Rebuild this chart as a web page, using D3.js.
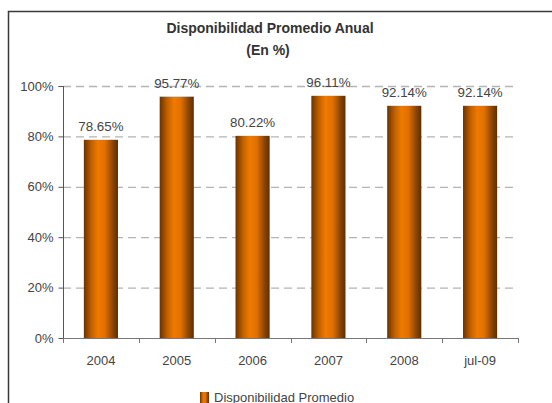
<!DOCTYPE html>
<html>
<head>
<meta charset="utf-8">
<script src="https://cdn.jsdelivr.net/npm/d3@7"></script>
<style>
  body { margin:0; background:#fff; }
  svg { display:block; font-family: "Liberation Sans", Arial, sans-serif; }
  svg text { font-family: "Liberation Sans", Arial, sans-serif; }
</style>
</head>
<body>
<svg id="chart" width="552" height="403"></svg>
<script>
// data
const years = ["2004","2005","2006","2007","2008","jul-09"];
const values = [78.65, 95.77, 80.22, 96.11, 92.14, 92.14];
const yTicks = [0, 20, 40, 60, 80, 100];
const seriesName = "Disponibilidad Promedio";

const svg = d3.select("#chart");
const W = 552, H = 403;
const m = {left:63, right:34, top:86, bottom:65};

// frame (right and bottom edges fall outside the picture)
svg.append("path")
  .attr("d", `M8.5,${H} L8.5,11.5 L${W},11.5`)
  .attr("fill","none").attr("stroke","#3a3a3a").attr("stroke-width",1.5);

// title
svg.append("text").attr("x",270).attr("y",33).attr("text-anchor","middle")
  .attr("font-size",14).attr("font-weight","bold").attr("fill","#333")
  .text("Disponibilidad Promedio Anual");
svg.append("text").attr("x",268).attr("y",55).attr("text-anchor","middle")
  .attr("font-size",14).attr("font-weight","bold").attr("fill","#333")
  .text("(En %)");

// gradient for the cylinder-like bars
const defs = svg.append("defs");
const grad = defs.append("linearGradient").attr("id","barGrad")
  .attr("x1","0%").attr("x2","100%").attr("y1","0%").attr("y2","0%");
grad.append("stop").attr("offset","0%").attr("stop-color","#6a3300");
grad.append("stop").attr("offset","22%").attr("stop-color","#c06000");
grad.append("stop").attr("offset","42%").attr("stop-color","#f07a00");
grad.append("stop").attr("offset","62%").attr("stop-color","#e07000");
grad.append("stop").attr("offset","85%").attr("stop-color","#8a4500");
grad.append("stop").attr("offset","100%").attr("stop-color","#5e2e00");

const x = d3.scaleBand().domain(years).range([m.left, W - m.right]).paddingInner(0.55).paddingOuter(0.275);
const xb = d3.scaleBand().domain(years).range([m.left, W - m.right]);
const y = d3.scaleLinear().domain([0,100]).range([H - m.bottom, m.top]);

// gridlines
svg.append("g").selectAll("line").data(yTicks.filter(d => d > 0)).join("line")
  .attr("x1", m.left).attr("x2", W - m.right)
  .attr("y1", d => y(d) + 0.5).attr("y2", d => y(d) + 0.5)
  .attr("stroke","#b4b4b4").attr("stroke-width",1.3).attr("stroke-dasharray","8,5");

// y axis
const yAxis = svg.append("g").attr("transform",`translate(${m.left + 0.5},0)`)
  .call(d3.axisLeft(y).tickValues(yTicks).tickFormat(d => d + "%").tickSize(5).tickPadding(5));
yAxis.select(".domain").attr("stroke","#555").attr("d", `M-5,${y(100)+0.5}H0V${y(0)+0.5}`);
yAxis.selectAll(".tick line").attr("stroke","#555");
yAxis.selectAll("text").attr("font-size",13).attr("fill","#444").attr("font-family",null);

// x axis
const xAxis = svg.append("g").attr("transform",`translate(0,${H - m.bottom + 0.5})`)
  .call(d3.axisBottom(xb).tickSize(0).tickPadding(17));
xAxis.select(".domain").attr("stroke","#777").attr("d", `M${m.left},0H${W - m.right}`);
xAxis.selectAll("text").attr("font-size",13).attr("fill","#444").attr("font-family",null);
// category separator ticks
svg.append("g").selectAll("line").data(years.concat(["end"])).join("line")
  .attr("x1", (d,i) => Math.round(m.left + i * xb.step()) + 0.5)
  .attr("x2", (d,i) => Math.round(m.left + i * xb.step()) + 0.5)
  .attr("y1", H - m.bottom).attr("y2", H - m.bottom + 5)
  .attr("stroke","#777");

// bars
svg.append("g").selectAll("rect").data(values).join("rect")
  .attr("x", (d,i) => x(years[i]))
  .attr("y", d => y(d))
  .attr("width", x.bandwidth())
  .attr("height", d => y(0) - y(d))
  .attr("fill","url(#barGrad)");

// value labels
svg.append("g").selectAll("text").data(values).join("text")
  .attr("x", (d,i) => x(years[i]) + x.bandwidth()/2)
  .attr("y", d => y(d) - 9)
  .attr("text-anchor","middle").attr("font-size",13.3).attr("fill","#444")
  .text(d => d.toFixed(2) + "%");

// legend
const lg = svg.append("g").attr("transform","translate(200,392)");
lg.append("rect").attr("width",9).attr("height",12).attr("fill","url(#barGrad)");
lg.append("text").attr("x",14).attr("y",10).attr("font-size",13).attr("fill","#444").text(seriesName);
</script>
</body>
</html>
